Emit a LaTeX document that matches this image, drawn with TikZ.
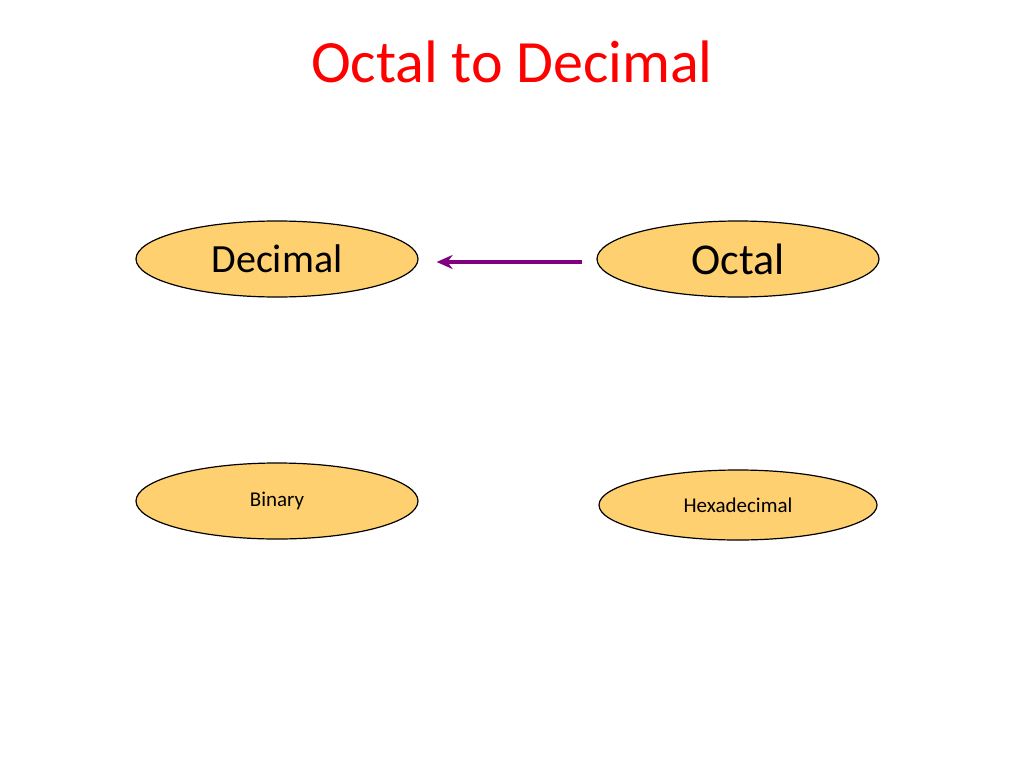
\documentclass[tikz,border=0pt]{standalone}
\usepackage{fontspec}
\setmainfont{Carlito}
\usetikzlibrary{shapes.geometric,arrows.meta}
\definecolor{ovalfill}{RGB}{255,208,112}
\definecolor{arrowpurple}{RGB}{128,0,128}
\begin{document}
\begin{tikzpicture}[x=1pt,y=-1pt,
  oval/.style={ellipse,draw=black,line width=1.2pt,fill=ovalfill,inner sep=0pt,minimum width=282pt,minimum height=76pt}]
\useasboundingbox (0,0) rectangle (1024,768);
\node[text=red,font=\fontsize{60}{72}\selectfont] (title) at (512,62) {Octal to Decimal};
\node[oval,font=\fontsize{40}{48}\selectfont] (dec) at (277,259) {Decimal};
\node[oval,font=\fontsize{44}{52}\selectfont] (oct) at (738,259) {Octal};
\node[oval,font=\fontsize{21}{25}\selectfont] (bin) at (277,501) {Binary};
\node[oval,minimum width=278pt,minimum height=70pt,font=\fontsize{21}{25}\selectfont] (hex) at (738,505) {Hexadecimal};
\draw[arrowpurple,line width=4pt,-{Stealth[length=16pt,width=14pt]}] ([xshift=-14pt,yshift=-3pt]oct.west) -- ([xshift=18pt,yshift=-3pt]dec.east);
\end{tikzpicture}
\end{document}
